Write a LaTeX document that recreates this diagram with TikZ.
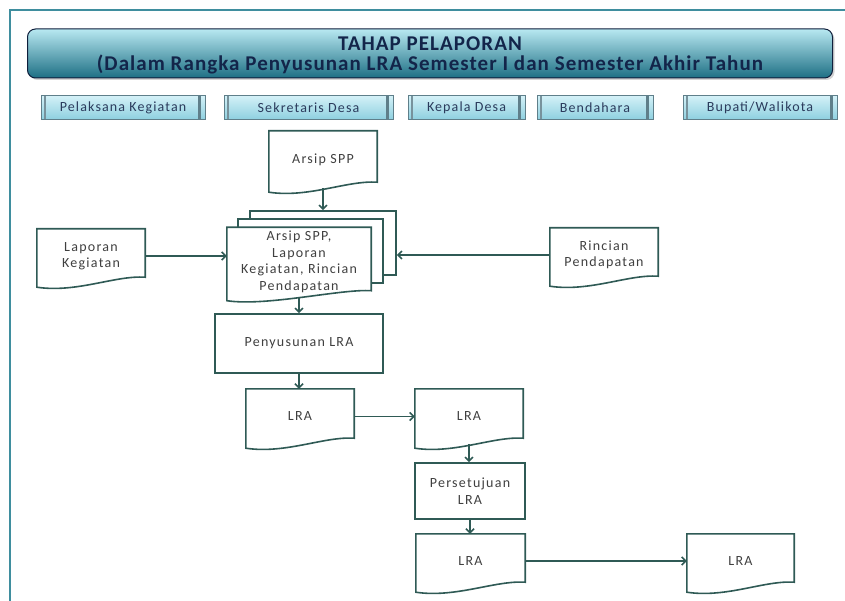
\documentclass[tikz,border=0pt]{standalone}
\usepackage{fontspec}
\setmainfont{Carlito}
\newfontfamily\flowfont{Carlito}[LetterSpace=9]
\newfontfamily\lanefont{Carlito}[LetterSpace=8]
\newfontfamily\headfont{Carlito}[LetterSpace=5]
\usepackage{tikz}
\usetikzlibrary{arrows.meta,backgrounds,shadows}

\definecolor{frameteal}{HTML}{3F8E9E}
\definecolor{boxline}{HTML}{2F5A55}
\definecolor{boxtext}{HTML}{404040}
\definecolor{headtext}{HTML}{13254A}
\definecolor{headtop}{HTML}{B8E8F1}
\definecolor{headmid}{HTML}{3FA6BE}
\definecolor{headbot}{HTML}{1D6F84}
\definecolor{btntop}{HTML}{D4F1F8}
\definecolor{btnbot}{HTML}{8ED0E0}
\definecolor{btnbar}{HTML}{5F7F8A}

\tikzset{
  frameline/.style={draw=frameteal, line width=2.5pt},
  headbar/.style={draw=headtext!80!black, line width=1pt, rounded corners=8pt,
    top color=headtop, middle color=headmid, bottom color=headbot,
    drop shadow={opacity=0.35, shadow xshift=2pt, shadow yshift=-2pt}},
  headtitle/.style={align=center, text=headtext, inner sep=0pt,
    font=\headfont\bfseries\fontsize{21}{20}\selectfont},
  lanebtn/.style={draw=btnbar, line width=0.9pt, top color=btntop, bottom color=btnbot,
    minimum height=24, inner sep=1pt, text=headtext!90, font=\lanefont\fontsize{14}{15}\selectfont,
    path picture={
      \fill[btnbar] ([xshift=-7pt]path picture bounding box.north east) rectangle ([xshift=-4pt]path picture bounding box.south east);
      \fill[btnbar!85] ([xshift=3pt]path picture bounding box.north west) rectangle ([xshift=5pt]path picture bounding box.south west);}},
  flowbox/.style={draw=boxline, line width=1.6pt, fill=white, inner sep=1pt, align=center,
    text=boxtext, font=\flowfont\fontsize{14}{16.5}\selectfont},
  docbox/.style={inner sep=1pt, align=center, text=boxtext, font=\flowfont\fontsize{14}{16.5}\selectfont},
  docline/.style={draw=boxline, line width=1.6pt, fill=white},
  sheet/.style={draw=boxline, line width=1.6pt, fill=white},
  flowarrow/.style={draw=boxline, line width=1.6pt, -{Straight Barb[length=4pt,width=8pt]}},
}

% document outline with wavy bottom, drawn behind a named node
\newcommand{\docoutline}[1]{%
  \begin{pgfonlayer}{background}
  \path[docline] (#1.north west) -- (#1.north east) -- ([yshift=6pt]#1.south east)
    .. controls ([xshift=-30pt,yshift=8pt]#1.south east) and ([xshift=40pt,yshift=-10pt]#1.south west) .. ([yshift=-4pt]#1.south west) -- cycle;
  \end{pgfonlayer}}

\begin{document}
\begin{tikzpicture}[x=1pt,y=-1pt]
  \useasboundingbox (0,0) rectangle (845,601);

  % Frame
  \draw[frameline] (10,601) -- (10,10) -- (845,10);

  % Header
  \node[headbar, minimum width=805, minimum height=49] (head) at (430,53.5) {};
  \node[headtitle] (title) at ([yshift=-2pt]head.center)
    {TAHAP PELAPORAN\\(Dalam Rangka Penyusunan LRA Semester I dan Semester Akhir Tahun};

  % Lanes
  \node[lanebtn, minimum width=164] (pelaksana) at (123,107.5) {Pelaksana Kegiatan};
  \node[lanebtn, minimum width=169] (sekdes) at (308.5,107.5) {Sekretaris Desa};
  \node[lanebtn, minimum width=117] (kades) at (466.5,107.5) {Kepala Desa};
  \node[lanebtn, minimum width=116] (bendahara) at (595,107.5) {Bendahara};
  \node[lanebtn, minimum width=154] (bupati) at (760,107.5) {Bupati/Walikota};

  % Input documents
  \node[docbox, minimum width=108, minimum height=57] (arsip) at (323,159.5) {Arsip SPP};
  \docoutline{arsip}
  \node[docbox, minimum width=108, minimum height=54] (lapkeg) at (91,256) {Laporan\\Kegiatan};
  \docoutline{lapkeg}
  \node[docbox, minimum width=108, minimum height=54] (rincian) at (604,255) {Rincian\\Pendapatan};
  \docoutline{rincian}

  % Stack of documents
  \begin{pgfonlayer}{background}
    \node[sheet, minimum width=146, minimum height=64] (sheetb) at (323,243) {};
    \node[sheet, minimum width=145, minimum height=64] (sheetm) at (310.5,251) {};
  \end{pgfonlayer}
  \node[docbox, minimum width=144, minimum height=69] (front) at (299,262)
    {Arsip SPP,\\Laporan\\Kegiatan, Rincian\\Pendapatan};
  \docoutline{front}

  % Processing
  \node[flowbox, minimum width=168, minimum height=59] (penyusunan) at (299,343.5) {Penyusunan LRA};
  \node[docbox, minimum width=108, minimum height=55] (lra1) at (300,416.5) {LRA};
  \docoutline{lra1}
  \node[docbox, minimum width=108, minimum height=55] (lra2) at (469,416.5) {LRA};
  \docoutline{lra2}
  \node[flowbox, minimum width=110, minimum height=56] (persetujuan) at (470,491) {Persetujuan\\LRA};
  \node[docbox, minimum width=109, minimum height=54] (lra3) at (470.5,561) {LRA};
  \docoutline{lra3}
  \node[docbox, minimum width=107, minimum height=54] (lra4) at (740.5,561) {LRA};
  \docoutline{lra4}

  % Arrows
  \draw[flowarrow] (arsip.south) -- (arsip.south |- sheetb.north);
  \draw[flowarrow] (lapkeg.east) -- (lapkeg.east -| front.west);
  \draw[flowarrow] (rincian.west) -- (rincian.west -| sheetb.east);
  \draw[flowarrow] (front.south) -- (penyusunan.north);
  \draw[flowarrow] (penyusunan.south) -- (penyusunan.south |- lra1.north);
  \draw[flowarrow] (lra1.east) -- (lra1.east -| lra2.west);
  \draw[flowarrow] (lra2.south) -- (lra2.south |- persetujuan.north);
  \draw[flowarrow] (persetujuan.south) -- (persetujuan.south |- lra3.north);
  \draw[flowarrow] (lra3.east) -- (lra3.east -| lra4.west);
\end{tikzpicture}
\end{document}
